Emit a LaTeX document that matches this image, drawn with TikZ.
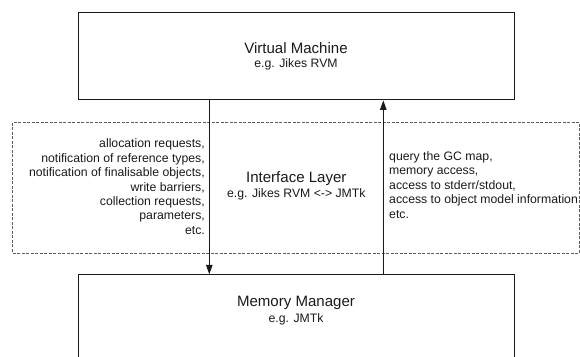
\documentclass[tikz,border=0pt]{standalone}
\usepackage{fontspec}
\setmainfont{Liberation Sans}
\usetikzlibrary{arrows.meta}

\definecolor{ink}{HTML}{1A1A1A}
\definecolor{dashgray}{HTML}{5A5A5A}

\tikzset{
  layerbox/.style={draw=ink, line width=1.1bp, rectangle, inner sep=0pt,
    minimum width=436.6bp},
  ifacebox/.style={draw=dashgray, line width=1bp, rectangle, inner sep=0pt,
    dash pattern=on 3bp off 1.5bp, minimum width=566.7bp, minimum height=130.7bp},
  titletext/.style={inner sep=0pt, text=ink, font=\fontsize{15.1}{18}\selectfont},
  subtext/.style={inner sep=0pt, text=ink, font=\fontsize{12.3}{14.5}\selectfont},
  listtext/.style={inner sep=0pt, text=ink, font=\fontsize{12.3}{14.5}\selectfont},
  callarrow/.style={draw=ink, line width=1bp, -{Triangle[length=9.5bp,width=6.5bp]}},
}

\begin{document}
\begin{tikzpicture}[x=1bp, y=-1bp]
  \useasboundingbox (0,0) rectangle (580,356);
  \clip (0,0) rectangle (580,356);

  % the three layers
  \node[layerbox, minimum height=87bp, anchor=north west] (vm) at (77.7,12.3) {};
  \node[ifacebox, anchor=north west] (il) at (12.3,122) {};
  \node[layerbox, minimum height=100bp, anchor=north west] (mm) at (77.7,274.3) {};

  % layer names
  \node[titletext] (vmt) at (296,47.7) {Virtual Machine};
  \node[subtext]   (vms) at (296,64.3) {e.g. Jikes RVM};
  \node[titletext] (ilt) at (296.3,179) {Interface Layer};
  \node[subtext]   (ils) at (296.3,194.3) {e.g. Jikes RVM <-> JMTk};
  \node[titletext] (mmt) at (296,303) {Memory Manager};
  \node[subtext]   (mms) at (296,319.5) {e.g. JMTk};

  % what passes between the layers
  \node[listtext, align=right, anchor=east] (down) at (205,186.7)
    {allocation requests,\\notification of reference types,\\notification of finalisable objects,\\write barriers,\\collection requests,\\parameters,\\etc.};
  \node[listtext, align=left, anchor=west] (up) at (389,185)
    {query the GC map,\\memory access,\\access to stderr/stdout,\\access to object model information\\etc.};

  % calls down into the memory manager and back up to the VM
  \coordinate (dx) at (209.3,0);
  \coordinate (ux) at (383.3,0);
  \draw[callarrow] (vm.south -| dx) -- (mm.north -| dx);
  \draw[callarrow] (mm.north -| ux) -- (vm.south -| ux);
\end{tikzpicture}
\end{document}
